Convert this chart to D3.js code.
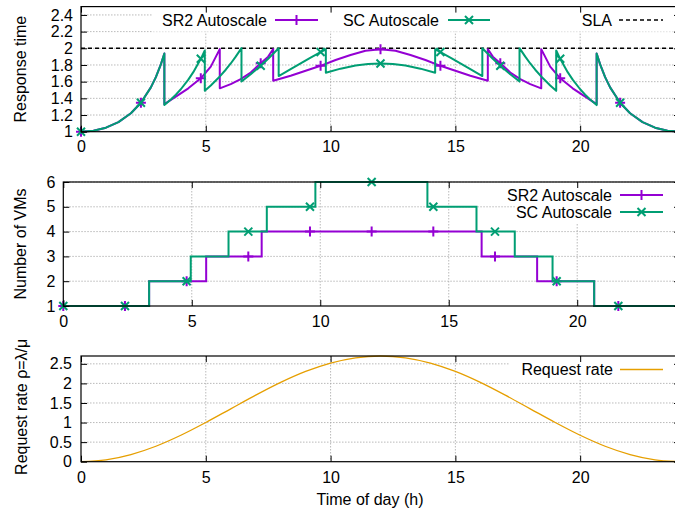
<!DOCTYPE html>
<html><head><meta charset="utf-8">
<script src="https://cdn.jsdelivr.net/npm/d3@7"></script>
<style>
html,body{margin:0;padding:0;background:#fff;}
svg{display:block;font-family:"Liberation Sans",Arial,Helvetica,sans-serif;}
</style></head>
<body><svg id="chart" width="675" height="515"></svg>
<script>
// ---------------- DATA ----------------
const xTickValues = [0, 5, 10, 15, 20];
const respTicks = [1, 1.2, 1.4, 1.6, 1.8, 2, 2.2, 2.4];
const vmTicks = [1, 2, 3, 4, 5, 6];
const rateTicks = [0, 0.5, 1, 1.5, 2, 2.5];
const markerTimes = [0, 2.4, 4.8, 7.2, 9.6, 12, 14.4, 16.8, 19.2, 21.6];
const slaLevel = 2;

// Response time, SR2 Autoscale (purple)
const srTime = [0,0.5,1,1.5,2,2.4,2.8,3,3.2,3.34,
  3.34,3.8,4.3,4.8,5.2,5.56,
  5.56,6,6.4,6.8,7.2,7.5,7.7,
  7.7,8.4,9,9.6,10.2,10.8,11.4,12,12.6,13.2,13.8,14.4,15,15.6,16.3,
  16.3,16.5,16.8,17.2,17.6,18,18.44,
  18.44,18.8,19.2,19.7,20.2,20.66,
  20.66,20.8,21,21.2,21.6,22,22.5,23,23.5,24];
const srResp = [1,1.012,1.048,1.115,1.221,1.347,1.531,1.654,1.807,1.938,
  1.33,1.42,1.52,1.64,1.78,1.99,
  1.52,1.57,1.63,1.71,1.82,1.9,1.99,
  1.61,1.67,1.73,1.79,1.86,1.92,1.97,1.99,1.97,1.92,1.86,1.79,1.73,1.67,1.61,
  1.99,1.9,1.82,1.71,1.63,1.57,1.52,
  1.99,1.78,1.64,1.52,1.42,1.33,
  1.938,1.807,1.654,1.531,1.347,1.221,1.115,1.048,1.012,1];

// Response time, SC Autoscale (green)
const scTime = [0,0.5,1,1.5,2,2.4,2.8,3,3.2,3.34,
  3.34,3.6,3.8,4,4.3,4.5,4.8,4.96,
  4.96,5.2,5.5,5.8,6,6.2,6.43,
  6.43,6.8,7.2,7.5,7.92,
  7.92,8.4,8.8,9.2,9.6,9.81,
  9.81,10.4,11,11.5,12,12.5,13,13.6,14.19,
  14.19,14.4,14.8,15.2,15.6,16.08,
  16.08,16.5,16.8,17.2,17.57,
  17.57,17.8,18,18.2,18.5,18.8,19.04,
  19.04,19.2,19.5,19.7,20,20.2,20.4,20.66,
  20.66,20.8,21,21.2,21.6,22,22.5,23,23.5,24];
const scResp = [1,1.012,1.048,1.115,1.221,1.347,1.531,1.654,1.807,1.938,
  1.319,1.386,1.444,1.509,1.624,1.714,1.874,1.974,
  1.49,1.554,1.643,1.743,1.818,1.9,2.002,
  1.601,1.688,1.791,1.875,2,
  1.667,1.75,1.82,1.889,1.955,1.987,
  1.706,1.756,1.793,1.812,1.818,1.812,1.793,1.756,1.706,
  1.987,1.955,1.889,1.82,1.75,1.667,
  2,1.875,1.791,1.688,1.601,
  2.002,1.9,1.818,1.743,1.643,1.554,1.49,
  1.974,1.874,1.714,1.624,1.509,1.444,1.386,1.319,
  1.938,1.807,1.654,1.531,1.347,1.221,1.115,1.048,1.012,1];

// Number of VMs (step changes)
const srVmTime = [0, 3.34, 5.56, 7.72, 16.28, 18.44, 20.66, 24];
const srVms    = [1, 2, 3, 4, 3, 2, 1, 1];
const scVmTime = [0, 3.34, 4.96, 6.43, 7.92, 9.81, 14.17, 16.08, 17.57, 19.04, 20.66, 24];
const scVms    = [1, 2, 3, 4, 5, 6, 5, 4, 3, 2, 1, 1];

// Request rate
const rateTime = [0,1,2,3,4,5,6,7,8,9,10,11,12,13,14,15,16,17,18,19,20,21,22,23,24];
const rateValues = [0,0.046,0.181,0.395,0.675,1.001,1.35,1.699,2.025,2.305,2.519,2.654,2.7,
  2.654,2.519,2.305,2.025,1.699,1.35,1.001,0.675,0.395,0.181,0.046,0];

// ---------------- STYLE ----------------
const PURPLE = "#9400d3", GREEN = "#009e73", ORANGE = "#e69f00";
const FS = 16;
const svg = d3.select("#chart");

function zip(t, v){ return t.map((d,i)=>({t:d, v:v[i]})); }
function valueAt(t, v, time){
  // value on the series at a given time (first matching segment)
  for (let i=0;i<t.length-1;i++){
    if (time>=t[i] && time<=t[i+1] && t[i+1]>t[i]){
      const f=(time-t[i])/(t[i+1]-t[i]); return v[i]+f*(v[i+1]-v[i]);
    }
  }
  return v[v.length-1];
}
function stepAt(t, v, time){
  let val=v[0]; for(let i=0;i<t.length;i++){ if(time>=t[i]) val=v[i]; } return val;
}

function panel(opts){
  const {x, y, xTicks, yTicks, yFmt, left, right, top, bottom} = opts;
  const g = svg.append("g");
  // grid
  const grid = g.append("g").attr("stroke","#a8a8a8").attr("stroke-width",0.8).attr("stroke-dasharray","1.5,1.5");
  xTicks.forEach(d=>{ if(d>x.domain()[0]) grid.append("line").attr("x1",x(d)).attr("x2",x(d)).attr("y1",top).attr("y2",bottom); });
  yTicks.forEach(d=>{ if(d>y.domain()[0]) grid.append("line").attr("x1",left).attr("x2",right).attr("y1",y(d)).attr("y2",y(d)); });
  return g;
}

function axes(g, opts){
  const {x, y, xTicks, yTicks, yFmt, left, right, top, bottom, xPad, yPad} = opts;
  const ax = g.append("g");
  const xb = ax.append("g").attr("transform",`translate(0,${bottom})`)
    .call(d3.axisBottom(x).tickValues(xTicks).tickSizeInner(-6).tickSizeOuter(0).tickPadding(xPad).tickFormat(d3.format("d")));
  const xt = ax.append("g").attr("transform",`translate(0,${top})`)
    .call(d3.axisTop(x).tickValues(xTicks).tickSizeInner(-6).tickSizeOuter(0).tickFormat(""));
  const yl = ax.append("g").attr("transform",`translate(${left},0)`)
    .call(d3.axisLeft(y).tickValues(yTicks).tickSizeInner(-6).tickSizeOuter(0).tickPadding(yPad).tickFormat(yFmt));
  const yr = ax.append("g").attr("transform",`translate(${right},0)`)
    .call(d3.axisRight(y).tickValues(yTicks).tickSizeInner(-6).tickSizeOuter(0).tickFormat(""));
  ax.selectAll(".domain").remove();
  ax.selectAll(".tick line").attr("stroke","#000").attr("stroke-width",1);
  ax.selectAll(".tick text").attr("font-size",FS).attr("fill","#000").attr("font-family",null);
  g.append("rect").attr("x",left).attr("y",top).attr("width",right-left).attr("height",bottom-top)
    .attr("fill","none").attr("stroke","#000").attr("stroke-width",1.2);
}

function plusMarker(sel, cx, cy){
  sel.append("path").attr("d",`M${cx-5},${cy}H${cx+5}M${cx},${cy-5}V${cy+5}`)
    .attr("stroke",PURPLE).attr("stroke-width",2).attr("fill","none");
}
function crossMarker(sel, cx, cy){
  sel.append("path").attr("d",`M${cx-4},${cy-4}L${cx+4},${cy+4}M${cx-4},${cy+4}L${cx+4},${cy-4}`)
    .attr("stroke",GREEN).attr("stroke-width",2).attr("fill","none");
}

function legendEntry(g, textRight, cy, x1, x2, style, marker){
  g.append("text").attr("x",textRight).attr("y",cy).attr("dy","0.35em").attr("text-anchor","end")
    .attr("font-size",FS).attr("fill","#000").text(style.label);
  g.append("line").attr("x1",x1).attr("x2",x2).attr("y1",cy).attr("y2",cy)
    .attr("stroke",style.color).attr("stroke-width",style.width).attr("stroke-dasharray",style.dash||null);
  if (marker) marker(g,(x1+x2)/2,cy);
}

// ============ TOP PANEL: response time ============
{
  const L=81, R=680, T=6.6, B=131.7;
  const x = d3.scaleLinear().domain([0,24]).range([L,R]);
  const y = d3.scaleLinear().domain([1,2.5]).range([B,T]);
  const o = {x,y,xTicks:xTickValues,yTicks:respTicks,yFmt:d3.format("~g"),left:L,right:R,top:T,bottom:B,xPad:9,yPad:8};
  const g = panel(o);
  // legend background
  g.append("rect").attr("x",153).attr("y",T+1).attr("width",R-153-1).attr("height",24).attr("fill","#fff");
  // SLA
  g.append("line").attr("x1",L).attr("x2",R).attr("y1",y(slaLevel)).attr("y2",y(slaLevel))
    .attr("stroke","#000").attr("stroke-width",1.5).attr("stroke-dasharray","4,3");
  const line = d3.line().x(d=>x(d.t)).y(d=>y(d.v));
  g.append("path").datum(zip(srTime,srResp)).attr("d",line).attr("fill","none").attr("stroke",PURPLE).attr("stroke-width",2).attr("stroke-linejoin","round");
  markerTimes.forEach(t=>plusMarker(g,x(t),y(valueAt(srTime,srResp,t))));
  g.append("path").datum(zip(scTime,scResp)).attr("d",line).attr("fill","none").attr("stroke",GREEN).attr("stroke-width",2).attr("stroke-linejoin","round");
  markerTimes.forEach(t=>crossMarker(g,x(t),y(valueAt(scTime,scResp,t))));
  axes(g,o);
  legendEntry(g,267,20,275,318,{label:"SR2 Autoscale",color:PURPLE,width:2},plusMarker);
  legendEntry(g,439,20,448,490,{label:"SC Autoscale",color:GREEN,width:2},crossMarker);
  legendEntry(g,612,20,619,663,{label:"SLA",color:"#000",width:1.5,dash:"4,3"},null);
  g.append("text").attr("transform",`translate(26,${(T+B)/2}) rotate(-90)`).attr("text-anchor","middle")
    .attr("font-size",FS).text("Response time");
}

// ============ MIDDLE PANEL: VMs ============
{
  const L=63.3, R=680, T=182, B=306;
  const x = d3.scaleLinear().domain([0,24]).range([L,R]);
  const y = d3.scaleLinear().domain([1,6]).range([B,T]);
  const o = {x,y,xTicks:xTickValues,yTicks:vmTicks,yFmt:d3.format("d"),left:L,right:R,top:T,bottom:B,xPad:10,yPad:8};
  const g = panel(o);
  g.append("rect").attr("x",515).attr("y",T+1).attr("width",R-515-1).attr("height",40).attr("fill","#fff");
  const line = d3.line().x(d=>x(d.t)).y(d=>y(d.v)).curve(d3.curveStepAfter);
  g.append("path").datum(zip(srVmTime,srVms)).attr("d",line).attr("fill","none").attr("stroke",PURPLE).attr("stroke-width",2);
  markerTimes.forEach(t=>plusMarker(g,x(t),y(stepAt(srVmTime,srVms,t))));
  g.append("path").datum(zip(scVmTime,scVms)).attr("d",line).attr("fill","none").attr("stroke",GREEN).attr("stroke-width",2);
  markerTimes.forEach(t=>crossMarker(g,x(t),y(stepAt(scVmTime,scVms,t))));
  axes(g,o);
  legendEntry(g,612,195,620,663,{label:"SR2 Autoscale",color:PURPLE,width:2},plusMarker);
  legendEntry(g,612,212,620,663,{label:"SC Autoscale",color:GREEN,width:2},crossMarker);
  g.append("text").attr("transform",`translate(26,${(T+B)/2}) rotate(-90)`).attr("text-anchor","middle")
    .attr("font-size",FS).text("Number of VMs");
}

// ============ BOTTOM PANEL: request rate ============
{
  const L=81, R=680, T=356, B=461.7;
  const x = d3.scaleLinear().domain([0,24]).range([L,R]);
  const y = d3.scaleLinear().domain([0,2.7]).range([B,T]);
  const o = {x,y,xTicks:xTickValues,yTicks:rateTicks,yFmt:d3.format("~g"),left:L,right:R,top:T,bottom:B,xPad:10,yPad:9};
  const g = panel(o);
  g.append("rect").attr("x",510).attr("y",T+1).attr("width",R-510-1).attr("height",22).attr("fill","#fff");
  const line = d3.line().x(d=>x(d.t)).y(d=>y(d.v)).curve(d3.curveMonotoneX);
  g.append("path").datum(zip(rateTime,rateValues)).attr("d",line).attr("fill","none").attr("stroke",ORANGE).attr("stroke-width",1.3);
  axes(g,o);
  legendEntry(g,613,369.5,620,663,{label:"Request rate",color:ORANGE,width:1.3},null);
  g.append("text").attr("transform",`translate(27,${(T+B)/2 - 2}) rotate(-90)`).attr("text-anchor","middle")
    .attr("font-size",FS).text("Request rate ρ=λ/μ");
  g.append("text").attr("x",370).attr("y",505).attr("text-anchor","middle").attr("font-size",FS).text("Time of day (h)");
}
</script></body></html>
